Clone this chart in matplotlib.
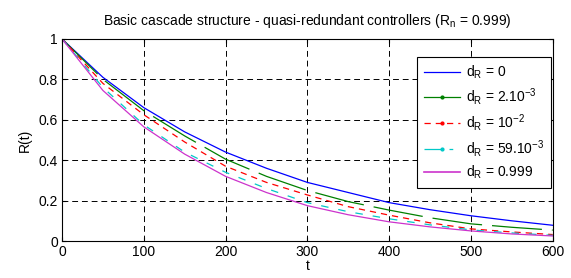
import numpy as np
import matplotlib
matplotlib.use('Agg')
import matplotlib.pyplot as plt
from matplotlib.lines import Line2D

plt.rcParams['font.family'] = ['Liberation Sans', 'DejaVu Sans']
plt.rcParams['mathtext.fontset'] = 'custom'
plt.rcParams['mathtext.rm'] = 'Liberation Sans'
plt.rcParams['mathtext.it'] = 'Liberation Sans'

# values
t = [0, 50, 100, 150, 200, 250, 300, 350, 400, 450, 500, 550, 600]
r_d0 = [1, 0.81, 0.66, 0.54, 0.44, 0.36, 0.29, 0.24, 0.19, 0.155, 0.125, 0.10, 0.078]
r_d2e3 = [1, 0.80, 0.645, 0.52, 0.405, 0.32, 0.25, 0.195, 0.153, 0.115, 0.085, 0.068, 0.054]
r_d1e2 = [1, 0.78, 0.625, 0.49, 0.37, 0.29, 0.228, 0.17, 0.128, 0.09, 0.06, 0.045, 0.032]
r_d59e3 = [1, 0.76, 0.575, 0.44, 0.34, 0.26, 0.19, 0.145, 0.11, 0.08, 0.055, 0.04, 0.028]
r_d999 = [1, 0.745, 0.565, 0.43, 0.32, 0.24, 0.175, 0.13, 0.095, 0.07, 0.05, 0.035, 0.025]

labels = [r'd$_\mathregular{R}$ = 0',
          r'd$_\mathregular{R}$ = 2.10$^\mathregular{-3}$',
          r'd$_\mathregular{R}$ = 10$^\mathregular{-2}$',
          r'd$_\mathregular{R}$ = 59.10$^\mathregular{-3}$',
          r'd$_\mathregular{R}$ = 0.999']

fig = plt.figure(figsize=(5.71, 2.78), dpi=100)
ax = fig.add_axes([0.1086, 0.133, 0.8594, 0.727])

ax.plot(t, r_d0, color='#0000ff', lw=0.9)
ax.plot(t, r_d2e3, color='#008000', lw=0.9, dashes=(40, 8))
ax.plot(t, r_d1e2, color='#ff0000', lw=0.9, dashes=(5, 4))
ax.plot(t, r_d59e3, color='#00c8c8', lw=0.9, dashes=(6, 8))
ax.plot(t, r_d999, color='#cc33cc', lw=0.9)

ax.set_xlim(0, 600)
ax.set_ylim(0, 1)
ax.set_xticks([0, 100, 200, 300, 400, 500, 600])
ax.set_yticks([0, 0.2, 0.4, 0.6, 0.8, 1])
ax.set_yticklabels(['0', '0.2', '0.4', '0.6', '0.8', '1'])
ax.grid(True, color='black', linestyle=(0, (6, 4)), lw=0.7)
ax.tick_params(direction='in', top=True, right=True, labelsize=10, length=3, pad=3)
for s in ax.spines.values():
    s.set_linewidth(0.8)

ax.set_xlabel('t', fontsize=10, labelpad=0)
ax.set_ylabel('R(t)', fontsize=10, labelpad=5)
ax.set_title(r'Basic cascade structure - quasi-redundant controllers (R$_\mathregular{n}$ = 0.999)',
             fontsize=10, pad=10)

handles = [
    Line2D([], [], color='#0000ff', lw=0.9),
    Line2D([], [], color='#008000', lw=0.9, marker='.', markersize=4),
    Line2D([], [], color='#ff0000', lw=0.9, dashes=(5, 4), marker='.', markersize=4),
    Line2D([], [], color='#00c8c8', lw=0.9, dashes=(14, 6, 3, 6), marker='.', markersize=4),
    Line2D([], [], color='#cc33cc', lw=1.2),
]
leg = ax.legend(handles, labels, loc='upper right', fontsize=10, fancybox=False,
                edgecolor='black', framealpha=1, handlelength=2.6, handletextpad=0.4,
                borderpad=0.5, labelspacing=0.35, borderaxespad=0,
                bbox_to_anchor=(0.996, 0.911))
leg.get_frame().set_linewidth(0.8)

fig.savefig('out.png', dpi=100)
